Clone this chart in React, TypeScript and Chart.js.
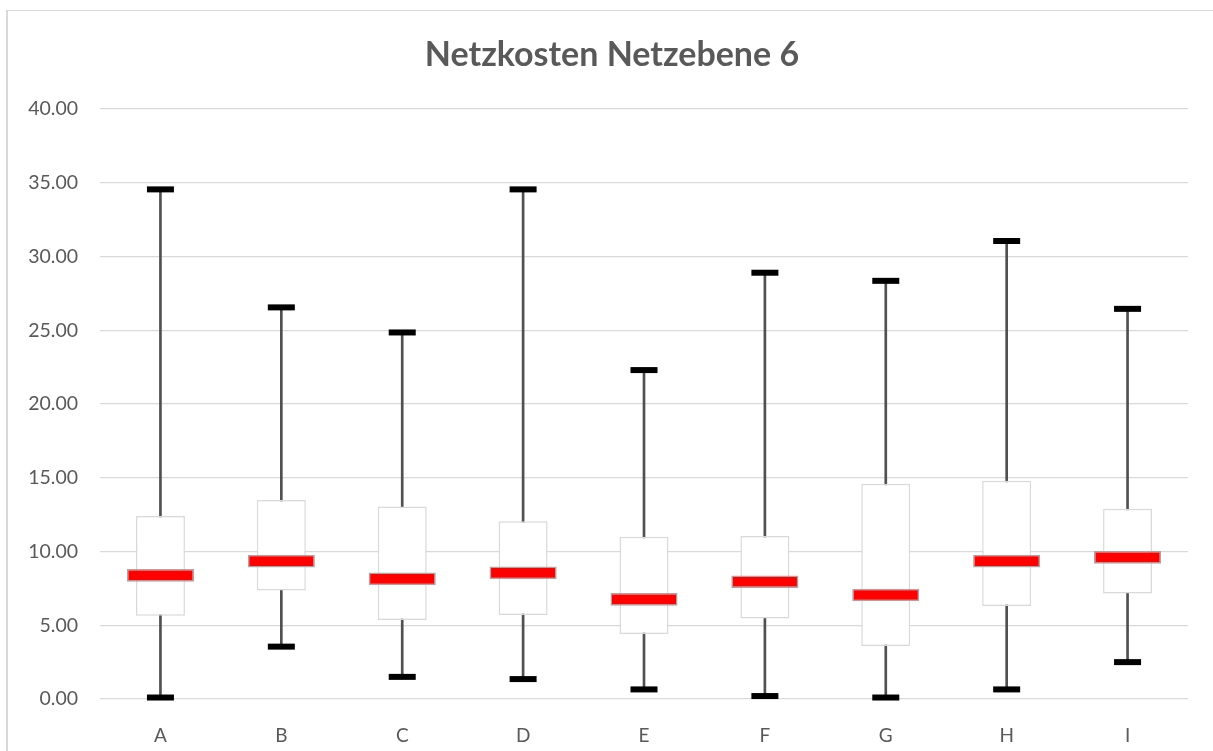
import React, { useEffect, useRef } from "react";
import { Chart, registerables } from "chart.js";

Chart.register(...registerables);

const categories = ["A", "B", "C", "D", "E", "F", "G", "H", "I"];
const maxValues = [34.55, 26.55, 24.85, 34.55, 22.3, 28.9, 28.35, 31.05, 26.45];
const minValues = [0.1, 3.55, 1.5, 1.35, 0.65, 0.2, 0.1, 0.65, 2.5];
const q3Values = [12.4, 13.5, 13.05, 12.05, 11.0, 11.05, 14.6, 14.8, 12.9];
const q1Values = [5.65, 7.35, 5.35, 5.7, 4.4, 5.45, 3.6, 6.3, 7.15];
const medianValues = [8.38, 9.35, 8.15, 8.55, 6.75, 7.95, 7.05, 9.35, 9.6];
const MEDIAN_HALF_BAND = 0.43;
const titleText = "Netzkosten Netzebene 6";

const FONT = "Lato, 'Open Sans', sans-serif";
const TEXT = "#595959";

const titlePlugin = {
  id: "centeredTitle",
  afterDraw(chart: any) {
    const ctx = chart.ctx;
    ctx.save();
    ctx.font = `bold 34px ${FONT}`;
    ctx.fillStyle = TEXT;
    ctx.textAlign = "center";
    ctx.textBaseline = "middle";
    ctx.fillText(titleText, chart.width / 2 + 1.5, 44);
    ctx.restore();
  },
};

export default function App() {
  const ref = useRef<HTMLCanvasElement | null>(null);

  useEffect(() => {
    if (!ref.current) return;
    const capDataset = (label: string, data: number[]) =>
      ({
        type: "line",
        label,
        data,
        showLine: false,
        pointStyle: "line",
        pointRadius: 13.5,
        pointHoverRadius: 13.5,
        pointBorderWidth: 6,
        pointBorderColor: "#000000",
        pointBackgroundColor: "#000000",
        borderColor: "#000000",
        order: 0,
        clip: false,
      } as any);

    const chart = new Chart(ref.current, {
      type: "bar",
      data: {
        labels: categories,
        datasets: [
          capDataset("max", maxValues),
          capDataset("min", minValues),
          {
            label: "median",
            data: medianValues.map((m) => [m - MEDIAN_HALF_BAND, m + MEDIAN_HALF_BAND]),
            backgroundColor: "#ff0000",
            borderColor: "#a6a6a6",
            borderWidth: 1.5,
            borderSkipped: false,
            grouped: false,
            categoryPercentage: 1,
            barPercentage: 0.555,
            order: 1,
          } as any,
          {
            label: "box",
            data: q1Values.map((q, i) => [q, q3Values[i]]),
            backgroundColor: "#ffffff",
            borderColor: "#d9d9d9",
            borderWidth: 1.5,
            borderSkipped: false,
            grouped: false,
            categoryPercentage: 1,
            barPercentage: 0.405,
            order: 2,
          } as any,
          {
            label: "whisker",
            data: minValues.map((m, i) => [m, maxValues[i]]),
            backgroundColor: "#505050",
            borderWidth: 0,
            grouped: false,
            barThickness: 2,
            order: 3,
          } as any,
        ],
      },
      options: {
        animation: false,
        responsive: true,
        maintainAspectRatio: false,
        layout: { padding: { top: 98, right: 25, bottom: 0, left: 0 } },
        plugins: {
          legend: { display: false },
          tooltip: { enabled: false },
          title: { display: false },
        },
        scales: {
          x: {
            grid: { display: false },
            border: { display: false },
            ticks: {
              color: TEXT,
              font: { family: FONT, size: 19 },
              padding: 17,
            },
            afterFit: (scale: any) => {
              scale.height = 52;
            },
          },
          y: {
            min: 0,
            max: 40,
            grid: { color: "#d9d9d9", lineWidth: 1.3, drawTicks: false },
            border: { display: false },
            ticks: {
              stepSize: 5,
              color: TEXT,
              font: { family: FONT, size: 19.5 },
              padding: 22,
              callback: (v: any) => Number(v).toFixed(2),
            },
            afterFit: (scale: any) => {
              scale.width = 92;
            },
          },
        },
      },
      plugins: [titlePlugin],
    });
    return () => chart.destroy();
  }, []);

  return (
    <div
      style={{
        position: "absolute",
        left: 6,
        top: 10,
        width: 1207,
        height: 741,
        boxSizing: "border-box",
        borderLeft: "2px solid #d9d9d9",
        borderTop: "1px solid #d9d9d9",
        background: "#ffffff",
      }}
    >
      <div style={{ position: "relative", width: 1205, height: 740 }}>
        <canvas ref={ref} />
      </div>
    </div>
  );
}
